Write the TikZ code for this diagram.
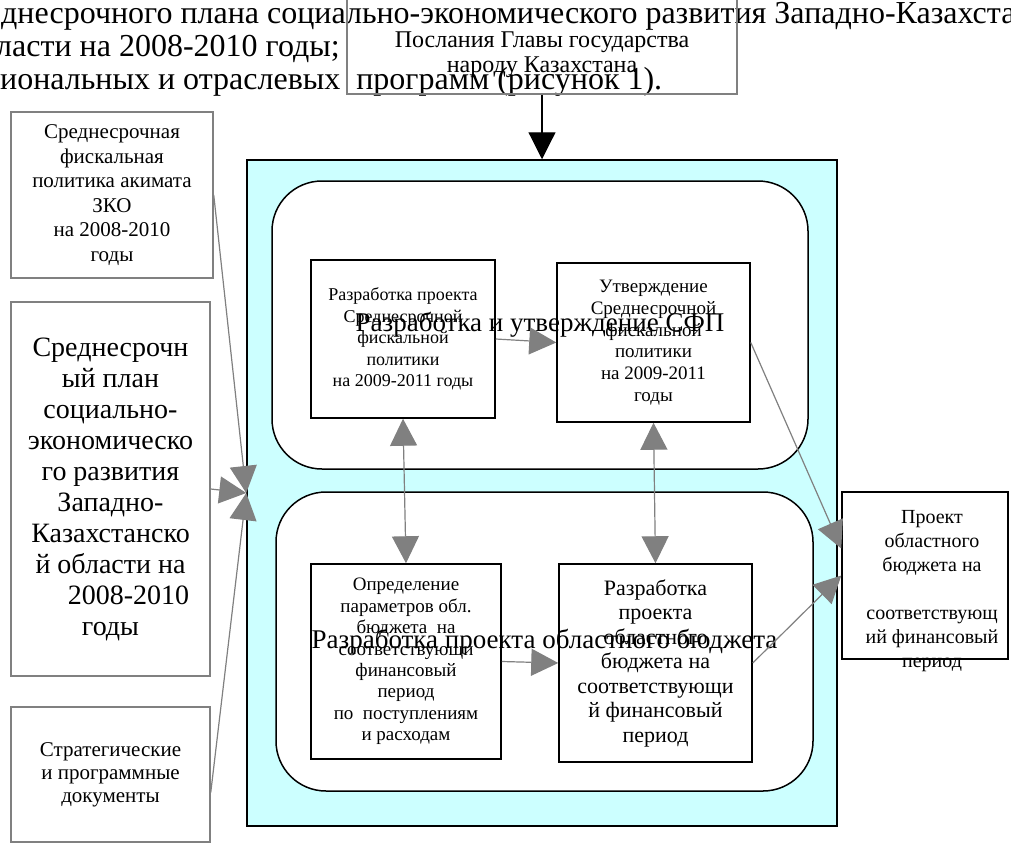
\documentclass[tikz,border=0pt]{standalone}
\usepackage{fontspec}
\setmainfont{Liberation Serif}
\usetikzlibrary{arrows.meta}
\definecolor{fonblue}{RGB}{204,255,255}
\definecolor{strelka}{RGB}{128,128,128}
\begin{document}
\begin{tikzpicture}[x=1pt,y=-1pt,
  tekst/.style={anchor=base west,inner sep=0pt,font=\fontsize{32}{33}\selectfont},
  sbox/.style={draw=strelka,line width=1.5pt,align=center,inner sep=0pt},
  ibox/.style={draw,line width=1.5pt,align=center,inner sep=0pt},
  rbox/.style={draw,line width=1.5pt,fill=white,rounded corners=50pt,inner sep=0pt,font=\fontsize{27}{30}\selectfont},
  arr/.style={draw=strelka,line width=1.2pt,-{Triangle[length=27pt,width=27pt]}},
  darr/.style={draw=strelka,line width=1.2pt,{Triangle[length=27pt,width=27pt]}-{Triangle[length=27pt,width=27pt]}}]
\useasboundingbox (0,0) rectangle (1011,843);
\clip (0,0) rectangle (1011,843);
% text of the page behind the figure
\node[tekst] (str1) at (1,24) {днесрочного плана социально-экономического развития Западно-Казахста};
\node[tekst] (str2) at (-4,56.5) {ласти на 2008-2010 годы;};
\node[tekst] (str3) at (0,89) {иональных и отраслевых~~программ (рисунок 1).};
\node[sbox,minimum width=390pt,minimum height=100pt] (msg) at (542,44) {};
\node[align=center,inner sep=0pt,font=\fontsize{24}{25}\selectfont] (msgtxt) at (542,55) {Послания Главы государства\\народу Казахстана};
% inputs on the left
\node[sbox,minimum width=202pt,minimum height=166pt,font=\fontsize{21}{24.6}\selectfont] (f1) at (112,195) {Среднесрочная\\фискальная\\политика акимата\\ЗКО\\на 2008-2010\\годы};
\node[sbox,minimum width=199pt,minimum height=374pt,font=\fontsize{28}{31}\selectfont] (f2) at (110.5,489) {Среднесрочн\\ый план\\социально-\\экономическо\\го развития\\Западно-\\Казахстанско\\й области на\hspace*{14pt}\\\hspace*{36pt}2008-2010\\годы};
\node[sbox,minimum width=199pt,minimum height=135pt,font=\fontsize{21}{23}\selectfont] (f3) at (110.5,774.5) {Стратегические\\и программные\\документы};
% main block
\node[draw,line width=1.5pt,fill=fonblue,minimum width=590pt,minimum height=666pt] (fon) at (542,493) {};
\node[rbox,minimum width=536pt,minimum height=288pt] (up) at (540,325) {Разработка и утверждение СФП};
\node[rbox,minimum width=537pt,minimum height=299pt] (low) at (544.5,641.5) {Разработка проекта областного бюджета};
\node[ibox,minimum width=184pt,minimum height=158pt,font=\fontsize{18}{21.5}\selectfont] (A) at (403,339) {Разработка проекта\\Среднесрочной\\фискальной\\политики\\на 2009-2011 годы};
\node[ibox,minimum width=193pt,minimum height=159pt,font=\fontsize{19}{21.7}\selectfont] (B) at (653.5,342.5) {Утверждение\\Среднесрочной\\фискальной\\политики\\на 2009-2011\\годы};
\node[ibox,minimum width=190pt,minimum height=195pt,font=\fontsize{19}{21.4}\selectfont] (C) at (406,661.5) {Определение\\параметров обл.\\бюджета~~на\\соответствующи\\финансовый\\период\\по~~поступлениям\\и расходам};
\node[ibox,minimum width=193pt,minimum height=198pt,font=\fontsize{22}{24.5}\selectfont] (D) at (655.5,663) {Разработка\\проекта\\областного\\бюджета на\\соответствующи\\й финансовый\\период};
% result
\node[ibox,minimum width=166pt,minimum height=167pt] (E) at (925,575.5) {};
\node[align=center,inner sep=0pt,font=\fontsize{20}{24}\selectfont] (Etxt) at (932,591) {Проект\\областного\\бюджета на\hspace*{38pt}\\[24pt]соответствующ\\ий финансовый\\период};
% arrows
\draw[line width=1.2pt,-{Triangle[length=27pt,width=27pt]}] (msg.south) -- (fon.north);
\draw[arr] (f1.east) -- (fon.west);
\draw[arr] (f2.east) -- (fon.west);
\draw[arr] ([yshift=-18pt]f3.east) -- (fon.west);
\draw[arr] (A.east) -- (B.west);
\draw[arr] (C.east) -- (D.west);
\draw[darr] (A.south) -- (C.north);
\draw[darr] (B.south) -- (D.north);
\draw[arr] (B.east) -- ([yshift=27pt]E.west);
\draw[arr] (D.east) -- (E.west);
\end{tikzpicture}
\end{document}
